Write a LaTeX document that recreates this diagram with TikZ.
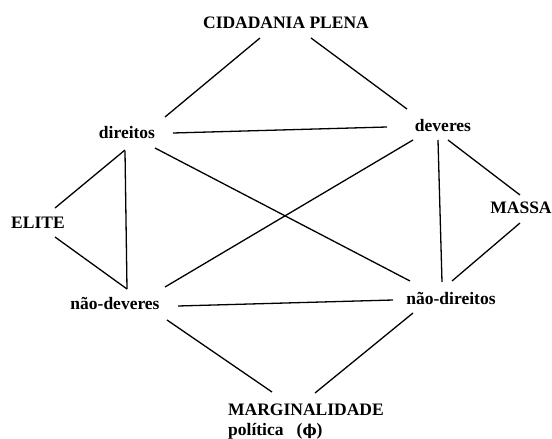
\documentclass[tikz,border=0pt]{standalone}
\usepackage{fontspec}
\setmainfont{Liberation Serif}
\newfontfamily\dvserif{DejaVu Serif}
\begin{document}
\begin{tikzpicture}[x=1pt,y=-1pt,
  lbl/.style={font=\bfseries\fontsize{17.5}{20}\selectfont, inner sep=0pt},
  ln/.style={line width=1.3pt, black}]
\useasboundingbox (0,0) rectangle (552,439);
% labels
\node[lbl] (cid) at (286,23) {CIDADANIA PLENA};
\node[lbl] (dir) at (127,133) {direitos};
\node[lbl] (dev) at (443,126) {deveres};
\node[lbl] (elite) at (38,223) {ELITE};
\node[lbl] (massa) at (521,208) {MASSA};
\node[lbl] (ndev) at (115,303) {não-deveres};
\node[lbl] (ndir) at (451,298) {não-direitos};
\node[lbl, anchor=base west] (marg) at (228,415) {MARGINALIDADE};
\node[lbl, anchor=base west] (pol) at (228,435) {política\ \ \ ({\dvserif\fontsize{15}{18}\selectfont\bfseries ϕ})};
% connector end points
\coordinate (a1) at (260,38);  \coordinate (b1) at (165,117);
\coordinate (a2) at (311,38);  \coordinate (b2) at (407,109);
\coordinate (a3) at (173,133); \coordinate (b3) at (387,127);
\coordinate (a4) at (155,148); \coordinate (b4) at (410,281);
\coordinate (a5) at (413,140); \coordinate (b5) at (165,287);
\coordinate (a6) at (125,150); \coordinate (b6) at (55,208);
\coordinate (a7) at (125,151); \coordinate (b7) at (127,289);
\coordinate (a8) at (55,237);  \coordinate (b8) at (127,289);
\coordinate (a9) at (438,140); \coordinate (b9) at (442,282);
\coordinate (a10) at (448,140); \coordinate (b10) at (520,195);
\coordinate (a11) at (520,223); \coordinate (b11) at (452,281);
\coordinate (a12) at (178,306); \coordinate (b12) at (393,300);
\coordinate (a13) at (167,320); \coordinate (b13) at (272,392);
\coordinate (a14) at (413,313); \coordinate (b14) at (315,393);
\foreach \i in {1,...,14} { \draw[ln] (a\i) -- (b\i); }
\end{tikzpicture}
\end{document}
